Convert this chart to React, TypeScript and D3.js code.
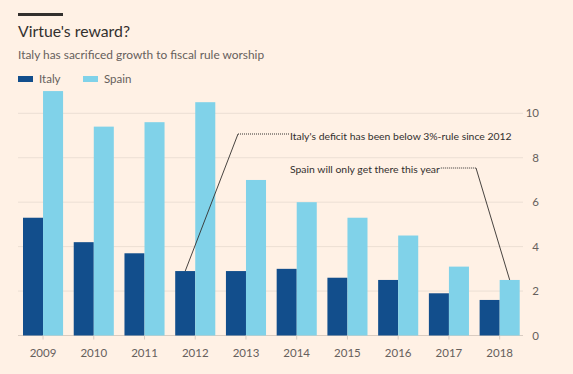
import * as d3 from 'd3';
import { useEffect, useRef } from 'react';

const years = ['2009', '2010', '2011', '2012', '2013', '2014', '2015', '2016', '2017', '2018'];
const italy = [5.3, 4.2, 3.7, 2.9, 2.9, 3.0, 2.6, 2.5, 1.9, 1.6];
const spain = [11.0, 9.4, 9.6, 10.5, 7.0, 6.0, 5.3, 4.5, 3.1, 2.5];
const yTicks = [0, 2, 4, 6, 8, 10];

const width = 573;
const height = 374;
const font = 'Lato, "Open Sans", sans-serif';
const textColor = '#33302e';
const mutedColor = '#66605c';
const italyColor = '#124e8c';
const spainColor = '#80d2e9';

const App = () => {
  const svgRef = useRef<SVGSVGElement>(null);

  useEffect(() => {
    const svg = d3.select(svgRef.current);
    svg.selectAll('*').remove();

    svg.append('rect').attr('width', width).attr('height', height).attr('fill', '#fff1e5');

    // header
    svg.append('rect').attr('x', 18).attr('y', 13).attr('width', 45).attr('height', 3).attr('fill', textColor);
    svg
      .append('text')
      .attr('x', 18)
      .attr('y', 37)
      .attr('fill', textColor)
      .style('font-family', font)
      .style('font-size', '15.8px')
      .text("Virtue's reward?");
    svg
      .append('text')
      .attr('x', 18)
      .attr('y', 59)
      .attr('fill', mutedColor)
      .style('font-family', font)
      .style('font-size', '11.9px')
      .text('Italy has sacrificed growth to fiscal rule worship');

    const legend = [
      { label: 'Italy', color: italyColor, x: 18 },
      { label: 'Spain', color: spainColor, x: 83 },
    ];
    legend.forEach((item) => {
      svg.append('rect').attr('x', item.x).attr('y', 76).attr('width', 15).attr('height', 6).attr('fill', item.color);
      svg
        .append('text')
        .attr('x', item.x + 21)
        .attr('y', 83)
        .attr('fill', mutedColor)
        .style('font-family', font)
        .style('font-size', '11.5px')
        .text(item.label);
    });

    const x = d3.scaleBand().domain(years).range([23, 519.7]).paddingInner(0.21).paddingOuter(0);
    const inner = d3.scaleBand().domain(['italy', 'spain']).range([0, x.bandwidth()]);
    const y = d3.scaleLinear().domain([0, 10]).range([335.5, 113.3]);

    const chart = svg.append('g');

    // grid
    chart
      .append('g')
      .selectAll('line')
      .data(yTicks)
      .join('line')
      .attr('x1', 18)
      .attr('x2', 523)
      .attr('y1', (d) => y(d))
      .attr('y2', (d) => y(d))
      .attr('stroke', (d) => (d === 0 ? '#d9ccc1' : '#ecdfd4'))
      .attr('stroke-width', 1);

    const rows = years.map((year, i) => ({ year, italy: italy[i], spain: spain[i] }));
    const groups = chart
      .append('g')
      .selectAll('g')
      .data(rows)
      .join('g')
      .attr('transform', (d) => `translate(${x(d.year)},0)`);

    groups
      .append('rect')
      .attr('x', inner('italy')!)
      .attr('width', inner.bandwidth())
      .attr('y', (d) => y(d.italy))
      .attr('height', (d) => y(0) - y(d.italy))
      .attr('fill', italyColor);
    groups
      .append('rect')
      .attr('x', inner('spain')!)
      .attr('width', inner.bandwidth())
      .attr('y', (d) => y(d.spain))
      .attr('height', (d) => y(0) - y(d.spain))
      .attr('fill', spainColor);

    // x axis labels
    chart
      .append('g')
      .selectAll('text')
      .data(years)
      .join('text')
      .attr('x', (d) => x(d)! + x.bandwidth() / 2)
      .attr('y', 357)
      .attr('text-anchor', 'middle')
      .attr('fill', mutedColor)
      .style('font-family', font)
      .style('font-size', '11.5px')
      .text((d) => d);

    // x ticks
    chart
      .append('g')
      .selectAll('line')
      .data(years)
      .join('line')
      .attr('x1', (d) => x(d)! + x.bandwidth() / 2)
      .attr('x2', (d) => x(d)! + x.bandwidth() / 2)
      .attr('y1', y(0))
      .attr('y2', y(0) + 4)
      .attr('stroke', '#d9ccc1');

    // y axis labels (right side)
    chart
      .append('g')
      .selectAll('text')
      .data(yTicks)
      .join('text')
      .attr('x', 539)
      .attr('y', (d) => y(d) + 4)
      .attr('text-anchor', 'end')
      .attr('fill', mutedColor)
      .style('font-family', font)
      .style('font-size', '11.5px')
      .text((d) => d);

    // annotations
    const notes = [
      {
        text: "Italy's deficit has been below 3%-rule since 2012",
        textY: 140,
        lineY: 134,
        elbowX: 238,
        targetX: x('2012')! + inner('italy')! + inner.bandwidth() / 2,
        targetY: y(italy[3]),
        side: 'left',
      },
      {
        text: 'Spain will only get there this year',
        textY: 173,
        lineY: 168,
        elbowX: 476,
        targetX: x('2018')! + inner('spain')! + inner.bandwidth() / 2,
        targetY: y(spain[9]),
        side: 'right',
      },
    ];

    notes.forEach((note) => {
      const label = svg
        .append('text')
        .attr('x', 290)
        .attr('y', note.textY)
        .attr('fill', textColor)
        .style('font-family', font)
        .style('font-size', '10.4px')
        .text(note.text);
      const textEnd = 290 + (label.node() as SVGTextElement).getComputedTextLength();
      const hx1 = note.side === 'left' ? note.elbowX : textEnd + 1;
      const hx2 = note.side === 'left' ? 289 : note.elbowX;
      svg
        .append('line')
        .attr('x1', hx1)
        .attr('x2', hx2)
        .attr('y1', note.lineY)
        .attr('y2', note.lineY)
        .attr('stroke', textColor)
        .attr('stroke-width', 1)
        .attr('stroke-dasharray', '1 1');
      svg
        .append('line')
        .attr('x1', note.elbowX)
        .attr('y1', note.lineY)
        .attr('x2', note.targetX)
        .attr('y2', note.targetY)
        .attr('stroke', textColor)
        .attr('stroke-width', 0.9);
    });
  }, []);

  return (
    <svg
      ref={svgRef}
      width={width}
      height={height}
      style={{ position: 'absolute', left: 0, top: 0 }}
    />
  );
};

export default App;
